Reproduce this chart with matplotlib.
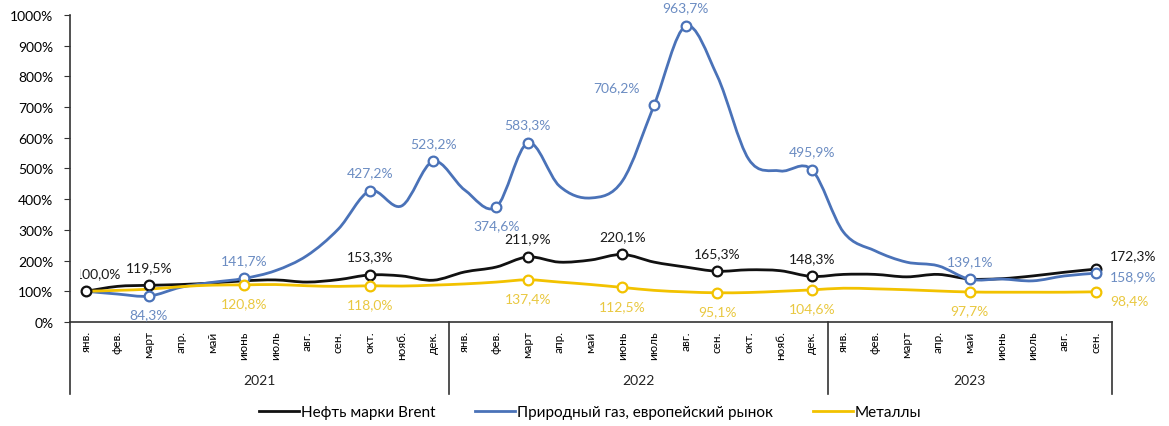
import numpy as np
import matplotlib
matplotlib.use('Agg')
import matplotlib.pyplot as plt
from matplotlib.path import Path
from matplotlib.patches import PathPatch, Rectangle
from matplotlib.lines import Line2D

plt.rcParams['font.family'] = ['Lato', 'DejaVu Sans']

# Months Jan 2021 .. Sep 2023
months = ['янв.', 'фев.', 'март', 'апр.', 'май', 'июнь', 'июль', 'авг.', 'сен.', 'окт.', 'нояб.', 'дек.']
month_labels = months + months + months[:9]
years = ['2021', '2022', '2023']
year_sizes = [12, 12, 9]

# values, % of Jan 2021
brent = [100.0, 116, 119.5, 122, 127, 134, 137, 130, 138, 153.3, 150, 136,
         163, 179, 211.9, 195, 202, 220.1, 195, 179, 165.3, 170, 167, 148.3,
         155, 155, 147, 155, 140, 141, 150, 162, 172.3]
gas = [100.0, 91, 84.3, 113, 129, 141.7, 167, 216, 303, 427.2, 378, 523.2,
       430, 374.6, 583.3, 443, 404, 460, 706.2, 963.7, 802, 530, 492, 495.9,
       293, 232, 195, 183, 139.1, 140, 134, 150, 158.9]
metals = [100.0, 103, 107, 115, 120, 120.8, 122, 118, 116, 118.0, 117, 120,
          124, 130, 137.4, 130, 122, 112.5, 103, 98, 95.1, 96, 100, 104.6,
          110, 108, 105, 101, 97.7, 97, 97, 97, 98.4]

# labelled points: (index, text, dx, dy, ha, va)
brent_labels = [(0, '100,0%', 9, 9, 'center', 'bottom'), (2, '119,5%', 0, 9, 'center', 'bottom'),
                (9, '153,3%', 0, 9, 'center', 'bottom'), (14, '211,9%', 0, 9, 'center', 'bottom'),
                (17, '220,1%', 0, 9, 'center', 'bottom'), (20, '165,3%', 0, 9, 'center', 'bottom'),
                (23, '148,3%', 0, 9, 'center', 'bottom'), (32, '172,3%', 10, 6, 'left', 'bottom')]
gas_labels = [(2, '84,3%', 0, -9, 'center', 'top'), (5, '141,7%', 0, 9, 'center', 'bottom'),
              (9, '427,2%', 0, 9, 'center', 'bottom'), (11, '523,2%', 0, 9, 'center', 'bottom'),
              (13, '374,6%', 0, -9, 'center', 'top'), (14, '583,3%', 0, 9, 'center', 'bottom'),
              (18, '706,2%', -10, 9, 'right', 'bottom'), (19, '963,7%', 0, 9, 'center', 'bottom'),
              (23, '495,9%', 0, 9, 'center', 'bottom'), (28, '139,1%', 0, 9, 'center', 'bottom'),
              (32, '158,9%', 10, -2, 'left', 'center')]
metals_labels = [(5, '120,8%', 0, -9, 'center', 'top'), (9, '118,0%', 0, -9, 'center', 'top'),
                 (14, '137,4%', 0, -9, 'center', 'top'), (17, '112,5%', 0, -9, 'center', 'top'),
                 (20, '95,1%', 0, -9, 'center', 'top'), (23, '104,6%', 0, -9, 'center', 'top'),
                 (28, '97,7%', 0, -9, 'center', 'top'), (32, '98,4%', 10, -6, 'left', 'center')]

c_black = '#111111'
c_blue = '#4a72b8'
c_yellow = '#f2c200'
t_black = '#1a1a1a'
t_blue = '#6b8cc2'
t_yellow = '#e9c840'


def smooth_path(x, y):
    # Excel-like smoothed line (Catmull-Rom as cubic Bezier)
    x = np.asarray(x, float)
    y = np.asarray(y, float)
    n = len(x)
    verts = [(x[0], y[0])]
    codes = [Path.MOVETO]
    for i in range(n - 1):
        i0 = max(i - 1, 0)
        i3 = min(i + 2, n - 1)
        c1 = (x[i] + (x[i + 1] - x[i0]) / 6, y[i] + (y[i + 1] - y[i0]) / 6)
        c2 = (x[i + 1] - (x[i3] - x[i]) / 6, y[i + 1] - (y[i3] - y[i]) / 6)
        verts += [c1, c2, (x[i + 1], y[i + 1])]
        codes += [Path.CURVE4] * 3
    return Path(verts, codes)


fig = plt.figure(figsize=(11.69, 4.27), dpi=100)
ax = fig.add_axes([0.060, 0.2436, 0.891, 0.7189])

# the first label is cut off by the plot area in the original
clip_rect = Rectangle((-0.2, 0), 40, 1000, transform=ax.transData, visible=False)
ax.add_patch(clip_rect)

x = np.arange(len(month_labels))
series = [(brent, c_black, t_black, brent_labels, 'Нефть марки Brent'),
          (gas, c_blue, t_blue, gas_labels, 'Природный газ, европейский рынок'),
          (metals, c_yellow, t_yellow, metals_labels, 'Металлы')]

handles = []
for vals, col, tcol, labs, name in series:
    ax.add_patch(PathPatch(smooth_path(x, vals), facecolor='none', edgecolor=col, lw=2, zorder=3))
    idx = [l[0] for l in labs]
    ax.plot(x[idx], np.array(vals)[idx], 'o', ms=7, mfc='white', mec=col, mew=1.6, zorder=4)
    for i, txt, dx, dy, ha, va in labs:
        t = ax.annotate(txt, (x[i], vals[i]), xytext=(dx, dy), textcoords='offset points',
                        ha=ha, va=va, fontsize=10, color=tcol, annotation_clip=False)
        if i == 0:
            t.set_clip_path(clip_rect)
    handles.append(Line2D([], [], color=col, lw=2))

ax.set_xlim(-0.5, len(month_labels) - 0.5)
ax.set_ylim(0, 1000)
ax.set_yticks(np.arange(0, 1001, 100))
ax.set_yticklabels([f'{v}%' for v in range(0, 1001, 100)])
ax.tick_params(axis='y', labelsize=10, length=4, color='#333333', pad=8)
ax.set_xticks(x)
ax.set_xticklabels(month_labels, rotation=90, fontsize=8.5)
ax.tick_params(axis='x', length=0, pad=6)
for s in ['top', 'right']:
    ax.spines[s].set_visible(False)
for s in ['left', 'bottom']:
    ax.spines[s].set_color('#333333')
    ax.spines[s].set_linewidth(1.2)

# year groups under the month labels
trans = ax.get_xaxis_transform()
start = 0
bounds = [-0.5]
for yr, size in zip(years, year_sizes):
    ax.text(start + (size - 1) / 2, -0.19, yr, transform=trans, ha='center', va='center',
            fontsize=10, color='#222222')
    start += size
    bounds.append(start - 0.5)
for b in bounds:
    ax.plot([b, b], [0, -0.235], transform=trans, color='#333333', lw=1.2, clip_on=False)

fig.legend(handles, [s[4] for s in series], loc='center', bbox_to_anchor=(0.505, 0.032),
           ncol=3, frameon=False, fontsize=11, handlelength=2.6, handletextpad=0.15,
           columnspacing=2.6)

fig.savefig('out.png', dpi=100)
